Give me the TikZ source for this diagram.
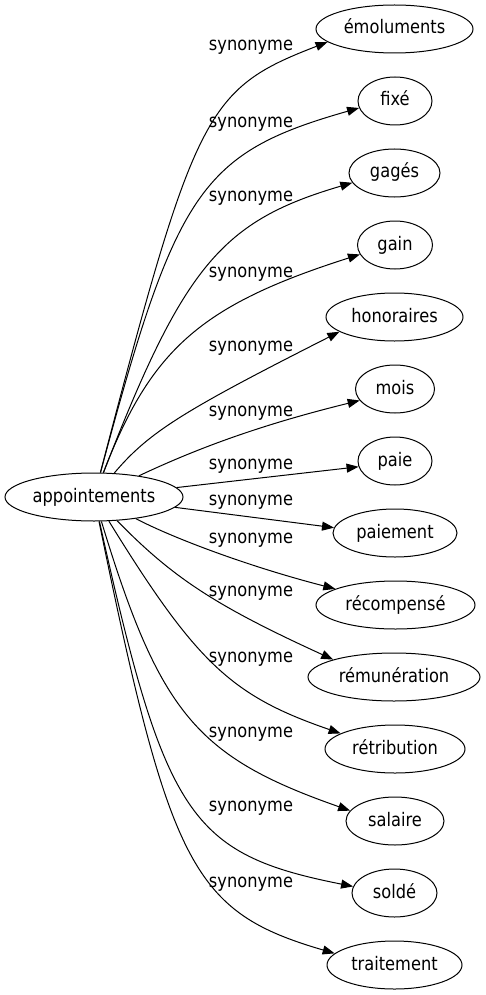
\documentclass[tikz,border=0pt]{standalone}
\usepackage{fontspec}
\setmainfont{DejaVu Sans}[FakeStretch=0.87]
\usetikzlibrary{arrows.meta,shapes.geometric}

\begin{document}
\begin{tikzpicture}[x=1pt,y=-1pt,font=\fontsize{18.67}{22}\selectfont,
 nd/.style={draw,ellipse,line width=1pt,inner sep=0pt,text height=12pt,text depth=2pt,minimum height=48pt,minimum width=#1pt},
 lb/.style={anchor=mid,inner sep=0pt},
 ar/.style={-{Triangle[length=12pt,width=9pt]},line width=1pt}]
\useasboundingbox (0,0) rectangle (485,995);
\node[nd=178] (appt) at (94,497) {appointements};
\node[nd=157] (emol) at (394.5,29) {émoluments};
\node[nd=74] (fixe) at (395,101) {fixé};
\node[nd=91] (gages) at (394.5,173) {gagés};
\node[nd=75] (gain) at (395,245) {gain};
\node[nd=137] (hono) at (394.5,317) {honoraires};
\node[nd=79] (mois) at (395,389) {mois};
\node[nd=74] (paie) at (395,461) {paie};
\node[nd=124] (paiem) at (395,533) {paiement};
\node[nd=159] (recomp) at (395.5,605) {récompensé};
\node[nd=172] (remun) at (394,677) {rémunération};
\node[nd=140] (retrib) at (395,749) {rétribution};
\node[nd=98] (sal) at (395,821) {salaire};
\node[nd=85] (solde) at (394.5,893) {soldé};
\node[nd=135] (trait) at (394.5,965) {traitement};
\node[lb] (l1) at (251,48) {synonyme};
\node[lb] (l2) at (251,125) {synonyme};
\node[lb] (l3) at (251,199) {synonyme};
\node[lb] (l4) at (251,275) {synonyme};
\node[lb] (l5) at (251,349) {synonyme};
\node[lb] (l6) at (251,414) {synonyme};
\node[lb] (l7) at (251,467) {synonyme};
\node[lb] (l8) at (251,503) {synonyme};
\node[lb] (l9) at (251,541) {synonyme};
\node[lb] (l10) at (251,594) {synonyme};
\node[lb] (l11) at (251,660) {synonyme};
\node[lb] (l12) at (251,735) {synonyme};
\node[lb] (l13) at (251,809) {synonyme};
\node[lb] (l14) at (251,885) {synonyme};
\draw[ar] (appt) .. controls (195,110) and (206,89) .. (emol.191);
\draw[ar] (appt) .. controls (176,190) and (201,153) .. (fixe.191);
\draw[ar] (appt) .. controls (184,265) and (222,221) .. (gages.193);
\draw[ar] (appt) .. controls (151,349) and (201,305) .. (gain.195);
\draw[ar] (appt) .. controls (149,432) and (183,411) .. (hono.195);
\draw[ar] (appt) .. controls (200,447) and (264,424) .. (mois.198);
\draw[ar] (appt) -- (paie.189);
\draw[ar] (appt) -- (paiem.175);
\draw[ar] (appt) .. controls (177,540) and (254,568) .. (recomp.165);
\draw[ar] (appt) .. controls (173,578) and (216,606) .. (remun.164);
\draw[ar] (appt) .. controls (197,664) and (232,696) .. (retrib.164);
\draw[ar] (appt) .. controls (160,714) and (197,757) .. (sal.167);
\draw[ar] (appt) .. controls (165,817) and (190,854) .. (solde.171);
\draw[ar] (appt) .. controls (170,868) and (193,912) .. (trait.169);
\end{tikzpicture}
\end{document}
